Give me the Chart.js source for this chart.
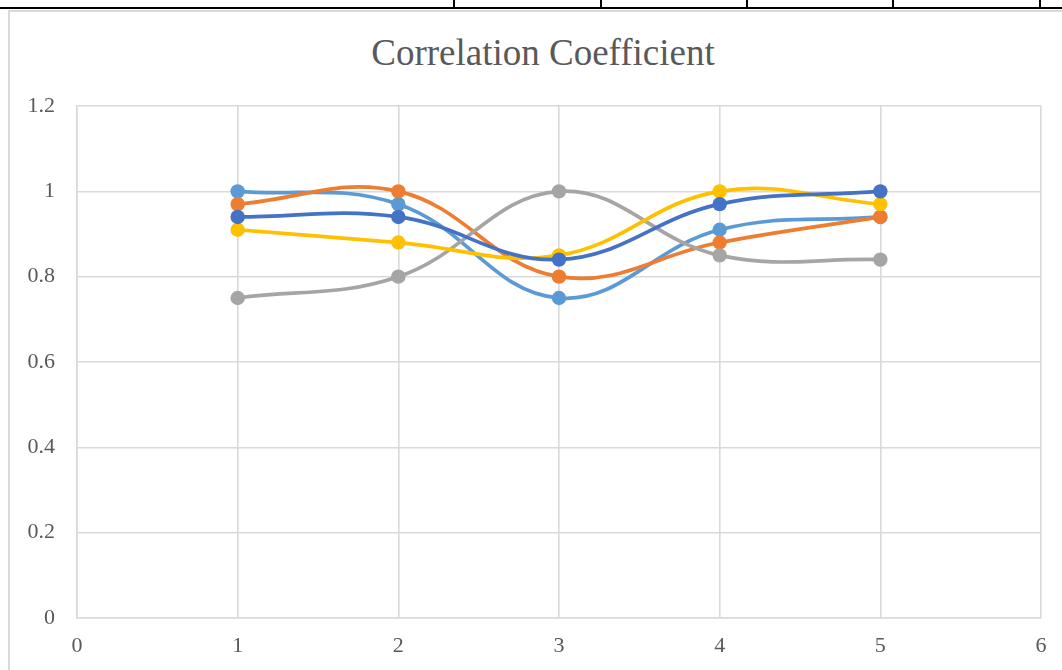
<!DOCTYPE html>
<html>
<head>
<meta charset="utf-8">
<script src="https://cdn.jsdelivr.net/npm/chart.js@4.4.0/dist/chart.umd.min.js"></script>
<style>
  html, body { margin: 0; padding: 0; background: #ffffff; }
  body { width: 1062px; height: 670px; position: relative; overflow: hidden; }
  #tableClip { position: absolute; left: 0; top: 0; width: 1062px; height: 7px; overflow: hidden; }
  .cell { position: absolute; top: -20px; font-family: "Liberation Serif", "Times New Roman", serif; font-size: 22px; color: #000; transform: translateX(-50%); }
  .tline { position: absolute; background: #000; }
  #frame { position: absolute; left: 8px; top: 10px; width: 1060px; height: 670px;
           border-left: 2px solid #d9d9d9; border-top: 2px solid #d9d9d9; box-sizing: border-box; }
  #wrap { position: absolute; left: 0; top: 0; width: 1062px; height: 670px; }
  #title { position: absolute; left: 0; top: 31px; width: 1086px; height: 44.4px; line-height: 44.4px;
           text-align: center; white-space: nowrap; font-family: "Liberation Serif", "Times New Roman", serif;
           font-size: 37px; color: #595959; }
</style>
</head>
<body>
<div id="tableClip">
  <div class="cell" style="left:527px">0.94</div>
  <div class="cell" style="left:673px">0.94</div>
  <div class="cell" style="left:820px">0.84</div>
  <div class="cell" style="left:966px">0.97</div>
</div>
<div class="tline" style="left:0;top:7px;width:1062px;height:2px"></div>
<div class="tline" style="left:453px;top:0;width:1.5px;height:8px"></div>
<div class="tline" style="left:600px;top:0;width:1.5px;height:8px"></div>
<div class="tline" style="left:746px;top:0;width:1.5px;height:8px"></div>
<div class="tline" style="left:892px;top:0;width:1.5px;height:8px"></div>
<div class="tline" style="left:1039px;top:0;width:1.5px;height:8px"></div>
<div id="frame"></div>
<div id="title"></div>
<div id="wrap"><canvas id="c" width="1062" height="670"></canvas></div>
<script>
// ---- data ----
const xValues = [1, 2, 3, 4, 5];
const seriesNames = ["Series1", "Series2", "Series3", "Series4", "Series5"];
const series1 = [1.00, 0.97, 0.75, 0.91, 0.94];   // light blue
const series2 = [0.97, 1.00, 0.80, 0.88, 0.94];   // orange
const series3 = [0.75, 0.80, 1.00, 0.85, 0.84];   // gray
const series4 = [0.91, 0.88, 0.85, 1.00, 0.97];   // yellow
const series5 = [0.94, 0.94, 0.84, 0.97, 1.00];   // dark blue
const seriesColors = ["#5B9BD5", "#ED7D31", "#A5A5A5", "#FFC000", "#4472C4"];
const yTickLabels = ["0", "0.2", "0.4", "0.6", "0.8", "1", "1.2"];
const xTickLabels = ["0", "1", "2", "3", "4", "5", "6"];
const titleText = "Correlation Coefficient";

document.getElementById("title").textContent = titleText;

const allSeries = [series1, series2, series3, series4, series5];
const datasets = allSeries.map((vals, i) => ({
  label: seriesNames[i],
  data: xValues.map((x, j) => ({ x: x, y: vals[j] })),
  borderColor: seriesColors[i],
  backgroundColor: seriesColors[i],
  pointBackgroundColor: seriesColors[i],
  pointBorderWidth: 0,
  pointRadius: 7.2,
  borderWidth: 3.7,
  tension: 0.4,
  showLine: true,
  order: allSeries.length - i
}));

const gridColor = "#d9d9d9";
const tickFont = { family: "'Liberation Serif', 'Times New Roman', serif", size: 22 };

new Chart(document.getElementById("c"), {
  type: "scatter",
  data: { datasets: datasets },
  options: {
    responsive: false,
    animation: false,
    layout: { padding: { left: 0, right: 21, top: 106, bottom: 0 } },
    plugins: {
      legend: { display: false },
      tooltip: { enabled: false },
      title: { display: false }
    },
    scales: {
      x: {
        type: "linear",
        min: 0, max: 6,
        ticks: {
          stepSize: 1,
          color: "#595959",
          font: tickFont,
          padding: 15,
          maxRotation: 0,
          callback: (v) => xTickLabels[Math.round(v)]
        },
        grid: { color: gridColor, lineWidth: 1.6, drawTicks: false },
        border: { color: gridColor, width: 1.6 },
        afterFit: (s) => { s.height = 52; }
      },
      y: {
        type: "linear",
        min: 0, max: 1.2,
        ticks: {
          stepSize: 0.2,
          color: "#595959",
          font: tickFont,
          padding: 22,
          callback: (v) => yTickLabels[Math.round(v / 0.2)]
        },
        grid: { color: gridColor, lineWidth: 1.6, drawTicks: false },
        border: { color: gridColor, width: 1.6 },
        afterFit: (s) => { s.width = 77; }
      }
    }
  }
});
</script>
</body>
</html>
